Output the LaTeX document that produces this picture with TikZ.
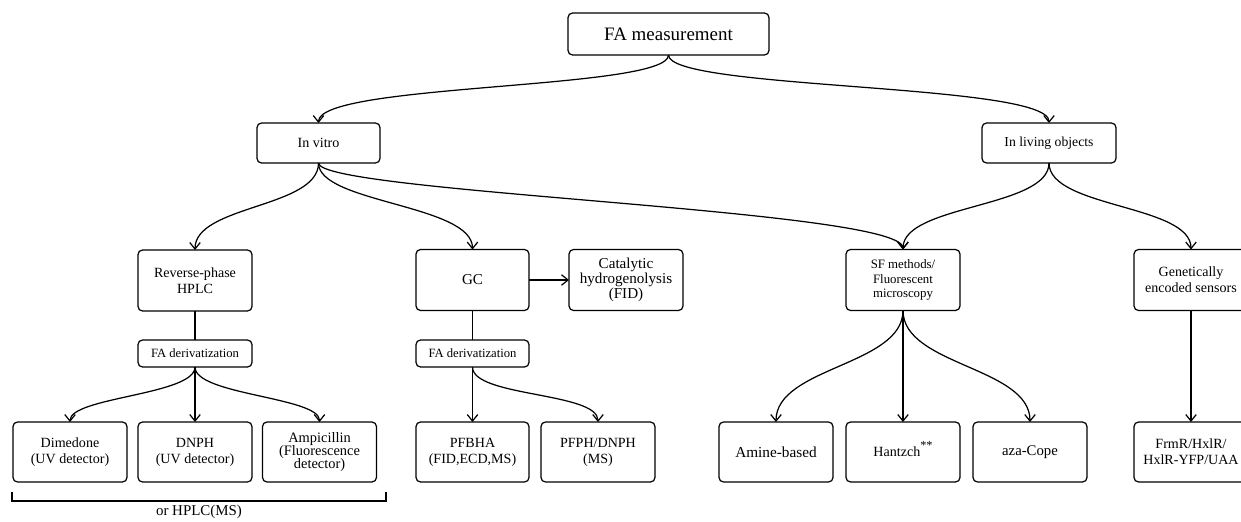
\documentclass[tikz,border=0pt]{standalone}
\usepackage{fontspec}
\setmainfont{Liberation Serif}
\usetikzlibrary{arrows.meta}
\begin{document}
\begin{tikzpicture}[x=0.02cm,y=-0.02cm,
  box/.style={draw, line width=0.7pt, rounded corners=0.09cm, inner sep=0pt, outer sep=0pt,
    align=center, minimum width=2.28cm, minimum height=1.22cm, font=\fontsize{8}{9}\selectfont},
  lowbox/.style={box, minimum height=1.2cm},
  derbox/.style={box, minimum height=0.54cm, font=\fontsize{7.2}{8}\selectfont},
  arr/.style={line width=0.7pt, -{Straight Barb[length=1.3mm,width=2.1mm]}},
  ln/.style={line width=0.7pt}]
\useasboundingbox (0,0) rectangle (1241,521);
\clip (0,0) rectangle (1241,521);

% top levels
\node[box, minimum width=4.02cm, minimum height=0.84cm, font=\fontsize{10.8}{12}\selectfont] (fa) at (668.5,34) {FA measurement};
\node[box, minimum width=2.46cm, minimum height=0.8cm, font=\fontsize{8}{9}\selectfont] (vitro) at (318.5,143) {In vitro};
\node[box, minimum width=2.68cm, minimum height=0.8cm, font=\fontsize{7.8}{9}\selectfont] (living) at (1049,143) {In living objects};

% second level
\node[box] (rp) at (195,280.5) {Reverse-phase\\HPLC};
\node[box, minimum width=2.26cm, font=\fontsize{8.6}{10}\selectfont] (gc) at (472.5,280) {GC};
\node[box, font=\fontsize{8.6}{8.6}\selectfont] (cat) at (626,280) {Catalytic\\hydrogenolysis\\(FID)};
\node[box, font=\fontsize{7.3}{8.2}\selectfont] (sf) at (903,280) {SF methods/\\Fluorescent\\microscopy};
\node[box] (gen) at (1191,280) {Genetically\\encoded sensors};

% derivatization
\node[derbox] (der1) at (195,353.5) {FA derivatization};
\node[derbox, minimum width=2.26cm] (der2) at (472.5,353.5) {FA derivatization};

% bottom level
\node[lowbox] (dim) at (70,452) {Dimedone\\(UV detector)};
\node[lowbox] (dnph) at (195,452) {DNPH\\(UV detector)};
\node[lowbox, font=\fontsize{8.2}{7.6}\selectfont] (amp) at (319.5,452) {Ampicillin\\(Fluorescence\\detector)};
\node[lowbox, minimum width=2.26cm] (pfbha) at (472.5,452) {PFBHA\\(FID,ECD,MS)};
\node[lowbox] (pfph) at (598,452) {PFPH/DNPH\\(MS)};
\node[lowbox, font=\fontsize{8.7}{10}\selectfont] (amine) at (776,452) {Amine-based};
\node[lowbox] (hantz) at (903,452) {Hantzch\smash{\raisebox{1.2ex}{\fontsize{7}{7}\selectfont **}}};
\node[lowbox, font=\fontsize{8.4}{10}\selectfont] (aza) at (1030,452) {aza-Cope};
\node[lowbox] (frmr) at (1191,452) {FrmR/HxlR/\\HxlR-YFP/UAA};

% connectors top
\draw[arr] (fa.south) .. controls +(0,35) and +(0,-40) .. (vitro.north);
\draw[arr] (fa.south) .. controls +(0,35) and +(0,-40) .. (living.north);

\draw[arr] (vitro.south) .. controls +(0,45) and +(0,-45) .. (rp.north);
\draw[arr] (vitro.south) .. controls +(0,40) and +(0,-45) .. (gc.north);
\draw[arr] (vitro.south) .. controls +(0,30) and +(0,-40) .. (sf.north);
\draw[arr] (living.south) .. controls +(0,45) and +(0,-45) .. (sf.north);
\draw[arr] (living.south) .. controls +(0,45) and +(0,-45) .. (gen.north);

% second level to derivatization
\draw[ln] (rp.south) -- (der1.north);
\draw[ln] (gc.south) -- (der2.north);
\draw[arr] (gc.east) -- (cat.west);

% derivatization to products
\draw[arr] (der1.south) .. controls +(0,28) and +(0,-25) .. (dim.north);
\draw[arr] (der1.south) -- (dnph.north);
\draw[arr] (der1.south) .. controls +(0,28) and +(0,-25) .. (amp.north);
\draw[arr] (der2.south) -- (pfbha.north);
\draw[arr] (der2.south) .. controls +(0,30) and +(0,-30) .. (pfph.north);

% SF methods
\draw[arr] (sf.south) .. controls +(0,55) and +(0,-55) .. (amine.north);
\draw[arr] (sf.south) -- (hantz.north);
\draw[arr] (sf.south) .. controls +(0,55) and +(0,-55) .. (aza.north);
\draw[arr] (gen.south) -- (frmr.north);

% bracket
\coordinate (bl) at (12,492);
\coordinate (br) at (386,492);
\draw[ln] (bl) -- ++(0,9) -| (br);
\node[anchor=base, inner sep=0pt, font=\fontsize{8.5}{9}\selectfont] (hplcms) at (199,515) {or HPLC(MS)};
\end{tikzpicture}
\end{document}
